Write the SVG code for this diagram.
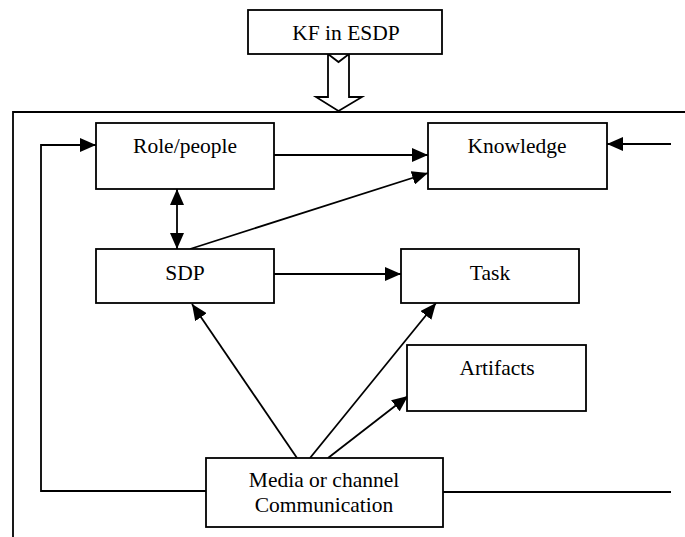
<svg xmlns="http://www.w3.org/2000/svg" width="685" height="537" viewBox="0 0 685 537">
<defs>
<style>
.box{fill:#fff;stroke:#000;stroke-width:1.8}
.t{font-family:"Liberation Serif","Times New Roman",serif;font-size:21.5px;fill:#000;text-anchor:middle}
.c{fill:none;stroke:#000;stroke-width:1.8}
.a{marker-end:url(#ah)}
</style>
<marker id="ah" markerWidth="16" markerHeight="14" refX="16" refY="7" orient="auto" markerUnits="userSpaceOnUse">
<path d="M0,0 L16,7 L0,14 z" fill="#000"/>
</marker>
<marker id="as" markerWidth="16" markerHeight="14" refX="0" refY="7" orient="auto" markerUnits="userSpaceOnUse">
<path d="M16,0 L0,7 L16,14 z" fill="#000"/>
</marker>
</defs>
<rect width="685" height="537" fill="#fff"/>
<g id="frame">
<path class="c" d="M685,112 H13 V537"/>
</g>
<g id="connectors">
<polygon points="328,54 338.5,62 349,54 349,97 362,97 338.5,111 316,97 328,97" fill="#fff" stroke="#000" stroke-width="1.8"/>
<path class="c a" d="M206,491 H41 V145 H96"/>
<path class="c a" d="M274,155 H428"/>
<path class="c a" d="M671,144 H607"/>
<path class="c a" d="M177,189 V249" marker-start="url(#as)"/>
<path class="c a" d="M190,249 L428,173"/>
<path class="c a" d="M274,274 H401"/>
<path class="c a" d="M297,458 L192,304"/>
<path class="c a" d="M310,458 L436,303"/>
<path class="c a" d="M328,458 L408,396"/>
<path class="c" d="M443,492 H671"/>
</g>
<g id="kf">
<rect class="box" x="248" y="10" width="194" height="44"/>
<text class="t" x="346" y="40">KF in ESDP</text>
</g>
<g id="role">
<rect class="box" x="96" y="123" width="178" height="66"/>
<text class="t" x="185" y="153">Role/people</text>
</g>
<g id="knowledge">
<rect class="box" x="428" y="123" width="179" height="66"/>
<text class="t" x="517" y="153">Knowledge</text>
</g>
<g id="sdp">
<rect class="box" x="96" y="249" width="178" height="54"/>
<text class="t" x="185" y="280">SDP</text>
</g>
<g id="task">
<rect class="box" x="401" y="249" width="178" height="54"/>
<text class="t" x="490" y="280">Task</text>
</g>
<g id="artifacts">
<rect class="box" x="407" y="345" width="179" height="66"/>
<text class="t" x="497" y="375">Artifacts</text>
</g>
<g id="media">
<rect class="box" x="206" y="458" width="237" height="69"/>
<text class="t" x="324" y="487">Media or channel</text>
<text class="t" x="324" y="512">Communication</text>
</g>
</svg>
